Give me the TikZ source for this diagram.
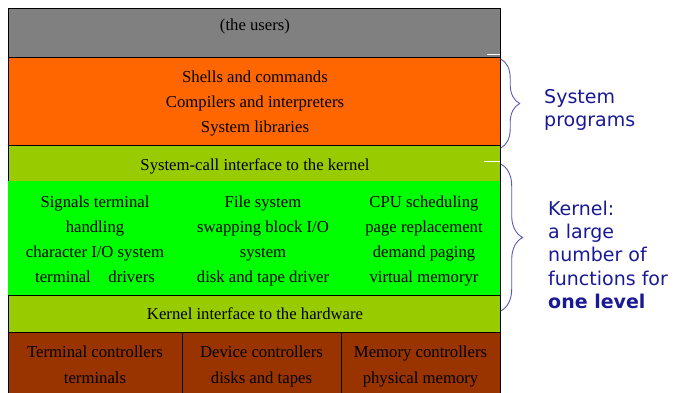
\documentclass[tikz,border=0pt]{standalone}
\usepackage{fontspec}
\setmainfont{Liberation Serif}
\newfontfamily\vsans{DejaVu Sans}
\usetikzlibrary{decorations.pathreplacing}
\definecolor{bandgray}{HTML}{808080}
\definecolor{bandorange}{HTML}{FF6600}
\definecolor{bandlime}{HTML}{99CC00}
\definecolor{bandgreen}{HTML}{00FF00}
\definecolor{bandbrown}{HTML}{993300}
\definecolor{sidetext}{RGB}{25,25,150}
\definecolor{bracecol}{RGB}{90,90,180}
\begin{document}
\begin{tikzpicture}[x=1pt,y=-1pt,
  band/.style={draw=black, line width=0.8pt, anchor=north west, inner sep=0pt, outer sep=0pt},
  lbl/.style={font=\fontsize{16.7}{25}\selectfont, anchor=base, inner sep=0pt},
  side/.style={font=\vsans\fontsize{19}{23.5}\selectfont, text=sidetext, anchor=base west, inner sep=0pt},
  bracestyle/.style={draw=bracecol, line width=0.9pt, decorate, decoration={brace, amplitude=#1}},
  tick/.style={draw=white, line width=1.6pt}]
\useasboundingbox (0,0) rectangle (674,393);
% bands
\node[band, fill=bandgray, minimum width=492pt, minimum height=49pt] (users) at (8,8) {};
\node[band, fill=bandorange, minimum width=492pt, minimum height=88pt] (sysprog) at (8,57) {};
\node[band, fill=bandlime, minimum width=492pt, minimum height=36.5pt] (syscall) at (8,145) {};
\node[anchor=north west, inner sep=0pt, outer sep=0pt, fill=bandgreen, minimum width=492pt, minimum height=114pt] (kernel) at (8,181.2) {};
\draw[line width=0.8pt] (kernel.north east) -- (kernel.south east);
\node[band, fill=bandlime, minimum width=492pt, minimum height=37.5pt] (hwif) at (8,295) {};
\node[band, fill=bandbrown, minimum width=174pt, minimum height=64pt] (hw1) at (8,332.5) {};
\node[band, fill=bandbrown, minimum width=159pt, minimum height=64pt] (hw2) at (182,332.5) {};
\node[band, fill=bandbrown, minimum width=159pt, minimum height=64pt] (hw3) at (341,332.5) {};
% texts
\node[lbl] (tusers) at (255,31) {(the users)};
\node[lbl] (tsp1) at (255,82.7) {Shells and commands};
\node[lbl] (tsp2) at (255,107.3) {Compilers and interpreters};
\node[lbl] (tsp3) at (255,132) {System libraries};
\node[lbl] (tsc) at (255,170) {System-call interface to the kernel};
\node[lbl] (ta1) at (95,207.7) {Signals terminal};
\node[lbl] (ta2) at (95,232.3) {handling};
\node[lbl] (ta3) at (95,257) {character I/O system};
\node[lbl] (ta4) at (95,282) {terminal\hspace{17.6pt}drivers};
\node[lbl] (tb1) at (263,207.7) {File system};
\node[lbl] (tb2) at (263,232.3) {swapping block I/O};
\node[lbl] (tb3) at (263,257) {system};
\node[lbl] (tb4) at (263,282) {disk and tape driver};
\node[lbl] (tc1) at (424,207.7) {CPU scheduling};
\node[lbl] (tc2) at (424,232.3) {page replacement};
\node[lbl] (tc3) at (424,257) {demand paging};
\node[lbl] (tc4) at (424,282) {virtual memoryr};
\node[lbl] (thw) at (255,319) {Kernel interface to the hardware};
\node[lbl] (td1) at (95,357) {Terminal controllers};
\node[lbl] (td2) at (95,383) {terminals};
\node[lbl] (te1) at (261.5,357) {Device controllers};
\node[lbl] (te2) at (261.5,383) {disks and tapes};
\node[lbl] (tf1) at (420.5,357) {Memory controllers};
\node[lbl] (tf2) at (420.5,383) {physical memory};
% white ticks
\coordinate (k1a) at (487,54.5);
\coordinate (k1b) at (500,54.5);
\coordinate (k2a) at (484,161.5);
\coordinate (k2b) at (500,161.5);
\draw[tick] (k1a) -- (k1b);
\draw[tick] (k2a) -- (k2b);
% braces
\coordinate (b1t) at (500.7,59);
\coordinate (b1b) at (500.7,148);
\coordinate (b2t) at (500.7,164);
\coordinate (b2b) at (500.7,311);
\draw[bracestyle=19pt] (b1t) -- (b1b);
\draw[bracestyle=22pt] (b2t) -- (b2b);
% side labels
\node[side] (s1) at (544,104) {System};
\node[side] (s2) at (544,127) {programs};
\node[side] (k1) at (548,215) {Kernel:};
\node[side] (k2) at (548,238.3) {a large};
\node[side] (k3) at (548,261.6) {number of};
\node[side] (k4) at (548,285) {functions for};
\node[side, font=\vsans\bfseries\fontsize{19}{23.5}\selectfont] (k5) at (548,308) {one level};
\end{tikzpicture}
\end{document}
